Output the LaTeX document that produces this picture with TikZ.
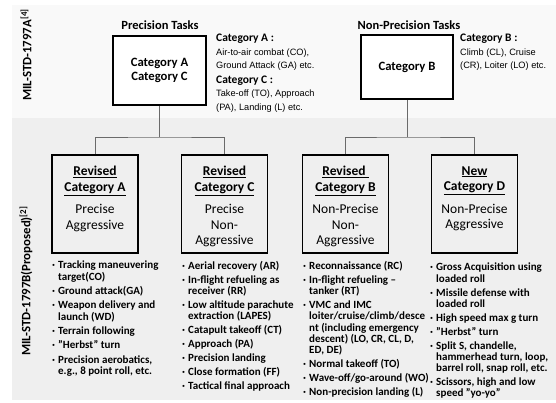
\documentclass[tikz,border=0pt]{standalone}
\usepackage{fontspec}
\setmainfont{Carlito}
\newfontfamily\descfont{Liberation Sans}
\usetikzlibrary{positioning}
\definecolor{bgtop}{HTML}{F9F9F9}
\definecolor{bglow}{HTML}{EFEFEF}
\definecolor{linkgray}{HTML}{6A6A6A}
\newcommand{\bul}{\makebox[6pt][l]{·}}
\newcommand{\cont}{\hspace*{6pt}}
\newcommand{\hdr}[1]{{\rmfamily\bfseries\fontsize{11.5}{11.5}\selectfont #1}}

\begin{document}
\begin{tikzpicture}[x=1pt,y=-1pt]
  \tikzstyle{topbox} = [line width=1.6pt, draw=black, fill=white, align=center, font=\bfseries\fontsize{12.7}{14.5}\selectfont]
  \tikzstyle{catbox} = [line width=1.6pt, draw=black, fill=bglow, minimum width=86pt, minimum height=98pt]
  \tikzstyle{cattxt} = [anchor=north, align=center, inner sep=0pt, font=\fontsize{13.5}{15.5}\selectfont]
  \tikzstyle{list} = [anchor=north west, align=left, inner sep=0pt, font=\bfseries\fontsize{11}{11.3}\selectfont]
  \tikzstyle{desc} = [anchor=north west, align=left, inner sep=0pt, font=\descfont\fontsize{9.2}{13.5}\selectfont]
  \tikzstyle{title} = [font=\bfseries\fontsize{12.5}{12.5}\selectfont]
  \tikzstyle{std} = [rotate=90, font=\bfseries\fontsize{12.8}{12.8}\selectfont]
  \tikzstyle{link} = [draw=linkgray, line width=1pt]

  \useasboundingbox (0,0) rectangle (556,402);
  \fill[bgtop] (12,5) rectangle (556,118);
  \fill[bglow] (12,118) rectangle (556,400);

  % standard labels
  \node[std] (stdA) at (26,55) {MIL-STD-1797A\textsuperscript{[4]}};
  \node[std] (stdB) at (26,281) {MIL-STD-1797B(Proposed)\textsuperscript{[2]}};

  % current categories
  \node[title] (precT) at (160,25) {Precision Tasks};
  \node[title] (nprecT) at (409,25) {Non-Precision Tasks};
  \node[topbox, minimum width=93pt, minimum height=69pt] (pAC) at (159.5,70.5) {Category A\\Category C};
  \node[topbox, minimum width=92pt, minimum height=64pt] (pB) at (407,67) {Category B};
  \node[desc] (dAC) at (216,34) {\hdr{Category A :}\\Air-to-air combat (CO),\\Ground Attack (GA) etc.\\[1pt]\hdr{Category C :}\\Take-off (TO), Approach\\(PA), Landing (L) etc.};
  \node[desc] (dB) at (460,34) {\hdr{Category B :}\\Climb (CL), Cruise\\(CR), Loiter (LO) etc.};

  % proposed categories
  \node[catbox] (rA) at (95,204) {};
  \node[catbox] (rC) at (224.5,204) {};
  \node[catbox] (rB) at (345.5,204) {};
  \node[catbox] (nD) at (474.5,204) {};
  \node[cattxt] (rA-t) at ([yshift=-12pt]rA.north) {\underline{\bfseries Revised}\\\underline{\bfseries Category A}\\[7pt]Precise\\Aggressive};
  \node[cattxt] (rC-t) at ([yshift=-12pt]rC.north) {\underline{\bfseries Revised}\\\underline{\bfseries Category C}\\[7pt]Precise\\Non-\\Aggressive};
  \node[cattxt] (rB-t) at ([yshift=-12pt]rB.north) {\underline{\bfseries Revised\ }\\\underline{\bfseries Category B}\\[7pt]Non-Precise\\Non-\\Aggressive};
  \node[cattxt] (nD-t) at ([yshift=-12pt]nD.north) {\underline{\bfseries New}\\\underline{\bfseries Category D}\\[7pt]Non-Precise\\Aggressive};

  % connectors
  \coordinate (busL) at (159.5,137);
  \coordinate (busR) at (407,137);
  \draw[link] (pAC.south) -- (busL);
  \draw[link] (rA.north) |- (busL) -| (rC.north);
  \draw[link] (pB.south) -- (busR);
  \draw[link] (rB.north) |- (busR) -| (nD.north);

  % task lists
  \node[list] (lA) at (52,261) {\bul Tracking maneuvering\\\cont target(CO)\\[3pt]\bul Ground attack(GA)\\[3pt]\bul Weapon delivery and\\\cont launch (WD)\\[3pt]\bul Terrain following\\[3pt]\bul "Herbst" turn\\[3pt]\bul Precision aerobatics,\\\cont e.g., 8 point roll, etc.};
  \node[list] (lC) at (182,261) {\bul Aerial recovery (AR)\\[2.6pt]\bul In-flight refueling as\\\cont receiver (RR)\\[2.6pt]\bul Low altitude parachute\\\cont extraction (LAPES)\\[2.6pt]\bul Catapult takeoff (CT)\\[2.6pt]\bul Approach (PA)\\[2.6pt]\bul Precision landing\\[2.6pt]\bul Close formation (FF)\\[2.6pt]\bul Tactical final approach};
  \node[list] (lB) at (303,261) {\bul Reconnaissance (RC)\\[2.6pt]\bul In-flight refueling --\\\cont tanker (RT)\\[2.6pt]\bul VMC and IMC\\\cont loiter/cruise/climb/desce\\\cont nt (including emergency\\\cont descent) (LO, CR, CL, D,\\\cont ED, DE)\\[2.6pt]\bul Normal takeoff (TO)\\[2.6pt]\bul Wave-off/go-around (WO)\\[2.6pt]\bul Non-precision landing (L)};
  \node[list] (lD) at (430,263) {\bul Gross Acquisition using\\\cont loaded roll\\[2.6pt]\bul Missile defense with\\\cont loaded roll\\[2.6pt]\bul High speed max g turn\\[2.6pt]\bul "Herbst" turn\\[2.6pt]\bul Split S, chandelle,\\\cont hammerhead turn, loop,\\\cont barrel roll, snap roll, etc.\\[2.6pt]\bul Scissors, high and low\\\cont speed "yo-yo"};
\end{tikzpicture}
\end{document}
